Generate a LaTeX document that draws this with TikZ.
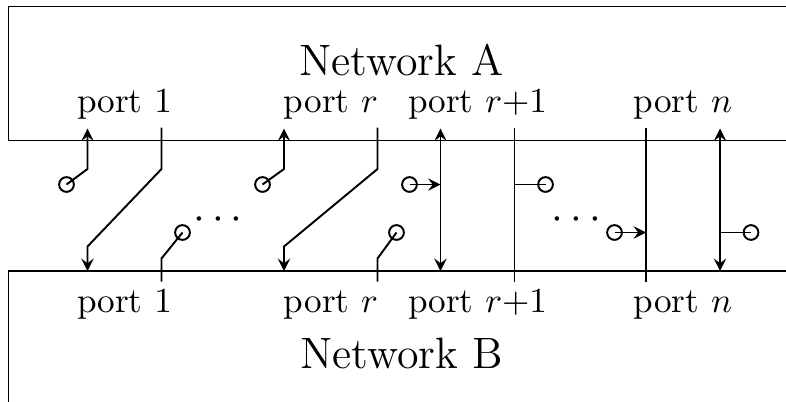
\documentclass[tikz,border=0pt]{standalone}
\usepackage{amsmath, amssymb}
\usetikzlibrary{arrows}
\usetikzlibrary{shapes}

\begin{document}
\begin{tikzpicture}[scale = 5, line width = 0.55pt]
\tikzstyle{termStyle} = [shape = circle, minimum size = 4.2pt, inner sep = 0pt, draw]
\tikzstyle{portStyle} = [anchor = base, inner sep = 0pt]
\tikzstyle{netStyle} = [anchor = base, inner sep = 0pt, font = \fontsize{12.5}{15}\selectfont]
\tikzstyle{arcStyle} = [-stealth]
\useasboundingbox (0,0) rectangle (1.572,0.802);
\draw (1.600,0.789) -- (0.017,0.789) -- (0.017,0.521) -- (1.600,0.521);
\draw (1.600,0.260) -- (0.017,0.260) -- (0.017,-0.050);
\node[netStyle] (netA) at (0.803,0.652) {Network A};
\node[netStyle] (netB) at (0.803,0.065) {Network B};
\node[portStyle] (a1) at (0.249,0.577) {port $1$};
\node[portStyle] (ar) at (0.662,0.577) {port $r$};
\node[portStyle] (ar1) at (0.955,0.577) {port $r{+}1$};
\node[portStyle] (an) at (1.366,0.577) {port $n$};
\node[portStyle] (b1) at (0.249,0.178) {port $1$};
\node[portStyle] (br) at (0.662,0.178) {port $r$};
\node[portStyle] (br1) at (0.955,0.178) {port $r{+}1$};
\node[portStyle] (bn) at (1.366,0.178) {port $n$};
\node[netStyle, anchor = center] (d0) at (0.443,0.361) {$\cdots$};
\node[netStyle, anchor = center] (d1) at (1.160,0.361) {$\cdots$};
\node[termStyle] (v0) at (0.133,0.433) {};
\node[termStyle] (v1) at (0.365,0.337) {};
\node[termStyle] (v2) at (0.525,0.433) {};
\node[termStyle] (v3) at (0.793,0.337) {};
\node[termStyle] (v4) at (0.819,0.433) {};
\node[termStyle] (v5) at (1.091,0.433) {};
\node[termStyle] (v6) at (1.229,0.337) {};
\node[termStyle] (v7) at (1.502,0.337) {};
\coordinate (ta1) at (0.175,0.545);
\coordinate (ta2) at (0.323,0.547);
\coordinate (tar1) at (0.568,0.545);
\coordinate (tar2) at (0.755,0.547);
\coordinate (tar11) at (0.881,0.545);
\coordinate (tar12) at (1.029,0.547);
\coordinate (tan1) at (1.292,0.547);
\coordinate (tan2) at (1.440,0.545);
\coordinate (tb1) at (0.175,0.260);
\coordinate (tb2) at (0.323,0.239);
\coordinate (tbr1) at (0.568,0.260);
\coordinate (tbr2) at (0.755,0.239);
\coordinate (tbr11) at (0.881,0.260);
\coordinate (tbr12) at (1.029,0.239);
\coordinate (tbn1) at (1.292,0.239);
\coordinate (tbn2) at (1.440,0.260);
\coordinate (k0) at (0.175,0.464);
\coordinate (k1) at (0.323,0.464);
\coordinate (k2) at (0.175,0.309);
\coordinate (k3) at (0.323,0.285);
\coordinate (k4) at (0.568,0.464);
\coordinate (k5) at (0.755,0.464);
\coordinate (k6) at (0.568,0.309);
\coordinate (k7) at (0.755,0.285);
\draw[arcStyle] (v0.center) -- (k0) -- (ta1);
\draw[arcStyle] (ta2) -- (k1) -- (k2) -- (tb1);
\draw (tb2) -- (k3) -- (v1.center);
\draw[arcStyle] (v2.center) -- (k4) -- (tar1);
\draw[arcStyle] (tar2) -- (k5) -- (k6) -- (tbr1);
\draw (tbr2) -- (k7) -- (v3.center);
\draw[stealth-stealth] (tar11) -- (tbr11);
\draw[arcStyle] (v4.center) -- (v4.center -| tar11);
\draw (tar12) -- (tbr12);
\draw (v5.center) -- (v5.center -| tar12);
\draw (tan1) -- (tbn1);
\draw[arcStyle] (v6.center) -- (v6.center -| tan1);
\draw[stealth-stealth] (tan2) -- (tbn2);
\draw (v7.center) -- (v7.center -| tan2);
\end{tikzpicture}
\end{document}
